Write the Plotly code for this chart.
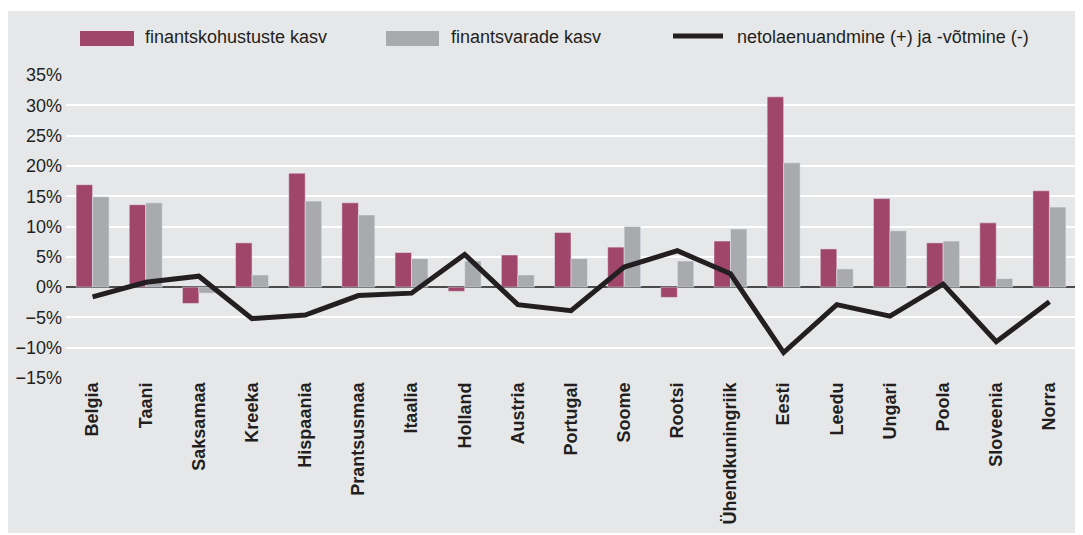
import plotly.graph_objects as go

countries = ["Belgia", "Taani", "Saksamaa", "Kreeka", "Hispaania", "Prantsusmaa",
             "Itaalia", "Holland", "Austria", "Portugal", "Soome", "Rootsi",
             "Ühendkuningriik", "Eesti", "Leedu", "Ungari", "Poola", "Sloveenia", "Norra"]

kohustused = [16.9, 13.6, -2.7, 7.3, 18.8, 13.9, 5.7, -0.7, 5.3, 9.0, 6.6, -1.7,
              7.6, 31.4, 6.3, 14.6, 7.3, 10.6, 15.9]
varad = [14.9, 13.9, -1.0, 2.0, 14.2, 11.9, 4.7, 4.3, 2.0, 4.7, 10.0, 4.3,
         9.6, 20.5, 3.0, 9.3, 7.6, 1.4, 13.2]
netolaen = [-1.6, 0.8, 1.8, -5.2, -4.6, -1.4, -1.0, 5.4, -2.9, -3.9, 3.3, 6.0,
            2.2, -10.8, -2.9, -4.8, 0.5, -9.0, -2.4]

names = ["finantskohustuste kasv", "finantsvarade kasv", "netolaenuandmine (+) ja -võtmine (-)"]
colors = ["#A0466A", "#A9AAAD", "#231F20"]

# page body has an 8px margin, so the figure is a bit smaller than the window
OFF = 8
W, H = 1083 - OFF, 535 - OFF
L, R, T, B = 66 - OFF, 7, 75 - OFF, 157
FONT = "Liberation Sans, Arial, sans-serif"


# window pixel -> paper coordinate
def fx(px):
    return (px - OFF - L) / (W - L - R)


def fy(py):
    return (H - B - (py - OFF)) / (H - T - B)


fig = go.Figure()
fig.add_trace(go.Bar(x=countries, y=kohustused, name=names[0], marker_color=colors[0]))
fig.add_trace(go.Bar(x=countries, y=varad, name=names[1], marker_color=colors[1]))
fig.add_trace(go.Scatter(x=countries, y=netolaen, name=names[2], mode="lines",
                         line=dict(color=colors[2], width=5)))

shapes = [
    # grey panel behind everything
    dict(type="rect", xref="paper", yref="paper", x0=fx(5), x1=fx(1078), y0=fy(533), y1=fy(11),
         fillcolor="#E6E7E8", line_width=0, layer="below"),
    # legend swatches
    dict(type="rect", xref="paper", yref="paper", x0=fx(80), x1=fx(134), y0=fy(46), y1=fy(31),
         fillcolor=colors[0], line_width=0),
    dict(type="rect", xref="paper", yref="paper", x0=fx(386), x1=fx(439), y0=fy(46), y1=fy(31),
         fillcolor=colors[1], line_width=0),
    dict(type="line", xref="paper", yref="paper", x0=fx(673), x1=fx(723), y0=fy(36), y1=fy(36),
         line=dict(color=colors[2], width=5)),
]
annotations = [
    dict(x=fx(xp), y=fy(37), xref="paper", yref="paper", text=t, showarrow=False,
         xanchor="left", yanchor="middle", font=dict(size=18, color="#231F20", family=FONT))
    for xp, t in zip([143, 449, 735], names)
]

fig.update_layout(
    width=W, height=H,
    margin=dict(l=L, r=R, t=T, b=B, autoexpand=False),
    paper_bgcolor="white",
    plot_bgcolor="#E6E7E8",
    barmode="group", bargap=0.38, bargroupgap=0,
    showlegend=False,
    shapes=shapes,
    annotations=annotations,
    font=dict(family=FONT, size=18, color="#231F20"),
)
fig.update_xaxes(tickangle=-90, tickfont=dict(family=FONT, weight="bold", size=18, color="#231F20"),
                 showgrid=False, ticks="", showline=False, automargin=False)
fig.update_yaxes(range=[-15, 35], dtick=5, ticksuffix="%", gridcolor="white", gridwidth=2,
                 zeroline=True, zerolinecolor="#4a4a4a", zerolinewidth=2, ticks="",
                 ticklabelstandoff=3, automargin=False, tickfont=dict(size=18, color="#231F20"))

fig.write_html("out.html")
